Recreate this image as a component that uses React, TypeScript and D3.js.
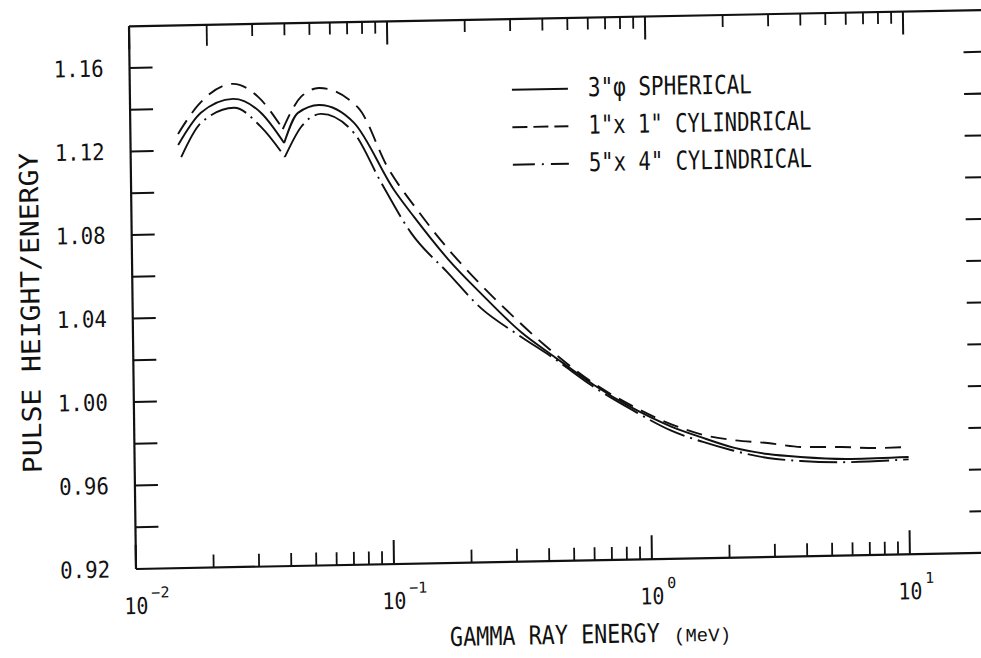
import React from 'react';
import * as d3 from 'd3';

const W = 981;
const H = 658;

// ---- data ----
const solidE = [0.0153, 0.0188, 0.0251, 0.0322, 0.0394, 0.0447, 0.054, 0.0737, 0.1045, 0.1245, 0.168, 0.224, 0.319, 0.427, 0.608, 0.844, 1.2, 1.57, 2.1, 2.85, 3.8, 6.0, 10];
const solidV = [1.1227, 1.1379, 1.1443, 1.1373, 1.1227, 1.137, 1.1406, 1.1317, 1.0992, 1.0861, 1.0655, 1.0489, 1.03, 1.018, 1.004, 0.993, 0.9835, 0.978, 0.9727, 0.9693, 0.9676, 0.9662, 0.9666];

const dashedE = [0.0153, 0.0184, 0.0251, 0.0314, 0.039, 0.046, 0.054, 0.0765, 0.099, 0.129, 0.168, 0.2185, 0.3, 0.391, 0.6, 0.85, 1.26, 1.61, 2.1, 2.85, 3.83, 5.5, 7.6, 10];
const dashedV = [1.128, 1.1417, 1.1515, 1.145, 1.1294, 1.1446, 1.1487, 1.139, 1.11, 1.089, 1.0705, 1.0545, 1.0372, 1.0238, 1.0052, 0.9937, 0.9835, 0.979, 0.9763, 0.9746, 0.9724, 0.972, 0.9712, 0.9714];

const dashdotE = [0.0157, 0.0188, 0.0253, 0.0321, 0.0396, 0.0459, 0.0549, 0.0735, 0.093, 0.121, 0.1674, 0.2239, 0.31, 0.43, 0.6, 0.85, 1.2, 1.6, 2.05, 2.85, 3.82, 5.97, 10];
const dashdotV = [1.1169, 1.1331, 1.14, 1.1306, 1.116, 1.1302, 1.1363, 1.1269, 1.1031, 1.0785, 1.059, 1.0418, 1.0288, 1.0168, 1.0035, 0.9918, 0.9815, 0.9757, 0.9716, 0.9674, 0.9657, 0.9647, 0.9655];

const seriesNames = ['3"\u03c6 SPHERICAL', '1"x 1" CYLINDRICAL', '5"x 4" CYLINDRICAL'];
const dipIndex = 4;

const yTickValues = [0.94, 0.96, 0.98, 1.0, 1.02, 1.04, 1.06, 1.08, 1.1, 1.12, 1.14, 1.16];
const yLabelValues = [0.92, 0.96, 1.0, 1.04, 1.08, 1.12, 1.16];
const yLabelTexts = ['0.92', '0.96', '1.00', '1.04', '1.08', '1.12', '1.16'];
const xDecades = [0.01, 0.1, 1, 10];
const xExponents = ['\u22122', '\u22121', '0', '1'];
const minorMultipliers = [2, 3, 4, 5, 6, 7, 8, 9];

const yTitle = 'PULSE HEIGHT/ENERGY';
const xTitle = 'GAMMA RAY ENERGY';
const xUnit = '(MeV)';

// ---- layout ----
const X0 = 136;
const X1 = 993;
const YB = 569;
const YT = 26.3;
const INK = '#111';
const FONT = '"DejaVu Sans Mono", "Liberation Mono", monospace';

const x = d3.scaleLog().domain([0.01, 21]).range([X0, X1]);
const y = d3.scaleLinear().domain([0.92, 1.18]).range([YB, YT]);

type P = { e: number; v: number };
const zip = (E: number[], V: number[]): P[] => E.map((e, i) => ({ e, v: V[i] }));

const line = d3
  .line<P>()
  .x((d) => x(d.e))
  .y((d) => y(d.v))
  .curve(d3.curveMonotoneX);

const pathFor = (pts: P[]) =>
  (line(pts.slice(0, dipIndex + 1)) || '') + (line(pts.slice(dipIndex)) || '');

const series = [
  { pts: zip(solidE, solidV), dash: undefined as string | undefined },
  { pts: zip(dashedE, dashedV), dash: '16 9' },
  { pts: zip(dashdotE, dashdotV), dash: '38 6 2 6' },
];

const legendDash = [undefined, '15 6', '22 7 2 7'];

const minorTicks: number[] = [];
xDecades.slice(0, 3).forEach((d) => minorMultipliers.forEach((m) => minorTicks.push(d * m)));

export default function App() {
  const legendX = 518;
  const legendRows = [97, 134.5, 172];
  const legendTextX = 594;
  return (
    <svg
      width={W}
      height={H}
      style={{ position: 'absolute', left: 0, top: 0, background: '#fff' }}
    >
      <rect width={W} height={H} fill="#fff" />
      <g transform={`translate(${X0},${YB}) matrix(1,-0.019,0.0129,1,0,0) translate(${-X0},${-YB})`}>
        {/* frame (right side lies beyond the page) */}
        <line x1={X0} y1={YB} x2={X1} y2={YB} stroke={INK} strokeWidth={2.2} />
        <line x1={X0} y1={YT} x2={X1} y2={YT} stroke={INK} strokeWidth={2.2} />
        <line x1={X0} y1={YT} x2={X0} y2={YB} stroke={INK} strokeWidth={2.2} />

        {/* y ticks left & right */}
        {yTickValues.map((v) => (
          <g key={'yt' + v}>
            <line x1={X0} x2={X0 + 23} y1={y(v)} y2={y(v)} stroke={INK} strokeWidth={2} />
            <line x1={X1} x2={X1 - 23} y1={y(v)} y2={y(v)} stroke={INK} strokeWidth={2} />
          </g>
        ))}
        {yLabelValues.map((v, i) => (
          <text
            key={'yl' + v}
            transform={`translate(110,${y(v) + 8}) scale(0.9,1)`}
            textAnchor="end"
            fontFamily={FONT}
            fontSize={23}
            fill={INK}
          >
            {yLabelTexts[i]}
          </text>
        ))}

        {/* x ticks bottom & top */}
        {minorTicks.map((t) => (
          <g key={'xm' + t}>
            <line x1={x(t)} x2={x(t)} y1={YB} y2={YB - 13} stroke={INK} strokeWidth={1.8} />
            <line
              x1={x(t)}
              x2={x(t)}
              y1={YT}
              y2={YT + (t === 0.02 ? 21 : 12)}
              stroke={INK}
              strokeWidth={1.8}
            />
          </g>
        ))}
        {xDecades.map((t, i) => (
          <g key={'xd' + t}>
            <line x1={x(t)} x2={x(t)} y1={YB} y2={YB - 24} stroke={INK} strokeWidth={2} />
            <line x1={x(t)} x2={x(t)} y1={YT} y2={YT + 23} stroke={INK} strokeWidth={2} />
            <text
              transform={`translate(${x(t)},614) scale(0.867,1)`}
              textAnchor="middle"
              fontFamily={FONT}
              fontSize={23}
              fill={INK}
            >
              10
            </text>
            <text
              x={x(t) + 15}
              y={598}
              textAnchor="start"
              fontFamily={FONT}
              fontSize={15}
              fill={INK}
            >
              {xExponents[i]}
            </text>
          </g>
        ))}

        {/* curves */}
        {series.map((s, i) => (
          <path
            key={'s' + i}
            d={pathFor(s.pts)}
            fill="none"
            stroke={INK}
            strokeWidth={1.9}
            strokeDasharray={s.dash}
            strokeLinejoin="round"
          />
        ))}

        {/* legend */}
        {legendRows.map((ly, i) => (
          <g key={'lg' + i}>
            <line
              x1={legendX}
              x2={legendX + 56}
              y1={ly}
              y2={ly}
              stroke={INK}
              strokeWidth={1.9}
              strokeDasharray={legendDash[i]}
            />
            <text
              transform={`translate(${legendTextX},${ly + 8}) scale(${i === 0 ? 0.806 : 0.792},1)`}
              fontFamily={FONT}
              fontSize={26}
              fill={INK}
            >
              {seriesNames[i]}
            </text>
          </g>
        ))}

        {/* axis titles */}
        <text
          transform="translate(43,311) rotate(-90) scale(1.077,1)"
          textAnchor="middle"
          fontFamily={FONT}
          fontSize={26}
          fill={INK}
        >
          {yTitle}
        </text>
        <text
          transform="translate(449,652) scale(0.838,1)"
          fontFamily={FONT}
          fontSize={26}
          fill={INK}
        >
          {xTitle}
        </text>
        <text
          x={673}
          y={652}
          fontFamily='"Liberation Mono", "DejaVu Sans Mono", monospace'
          fontSize={19}
          fill={INK}
        >
          {xUnit}
        </text>
      </g>
    </svg>
  );
}
